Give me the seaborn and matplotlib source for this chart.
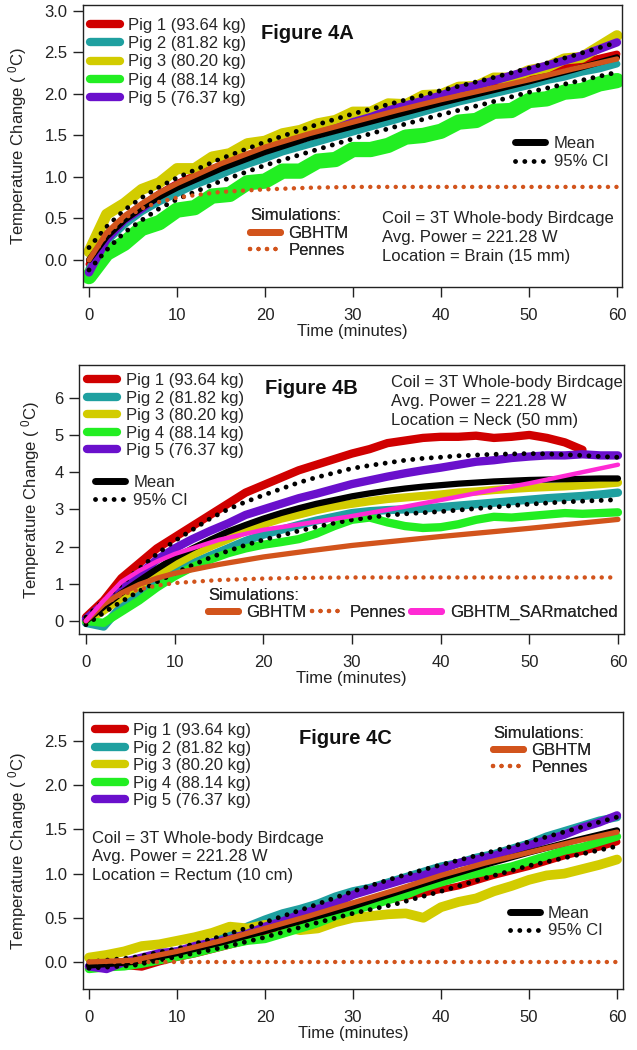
import numpy as np
import pandas as pd
import matplotlib
matplotlib.use("Agg")
import matplotlib.pyplot as plt
import seaborn as sns
from matplotlib.lines import Line2D

sns.set_style("ticks")
plt.rcParams['font.family'] = ['Liberation Sans', 'DejaVu Sans']
plt.rcParams['mathtext.fontset'] = 'custom'
plt.rcParams['mathtext.rm'] = 'Liberation Sans'
plt.rcParams['mathtext.it'] = 'Liberation Sans'

# ---------------- data ----------------
PIG_LABELS = ["Pig 1 (93.64 kg)", "Pig 2 (81.82 kg)", "Pig 3 (80.20 kg)",
              "Pig 4 (88.14 kg)", "Pig 5 (76.37 kg)"]
PIG_COLORS = ["#d00000", "#1fa0a0", "#d2cc00", "#22ee22", "#6a10cc"]
C_SIM = "#d2541c"
C_PINK = "#ff2ad4"

T_PIG = list(range(0, 61, 2))

# Panel A (brain)
A_PIG1 = [-0.05, 0.30, 0.50, 0.66, 0.80, 0.92, 1.02, 1.10, 1.18, 1.26, 1.33, 1.40, 1.46, 1.52, 1.58, 1.64,
          1.70, 1.78, 1.82, 1.88, 1.94, 2.00, 2.05, 2.10, 2.16, 2.22, 2.27, 2.32, 2.38, 2.43, 2.48]
A_PIG2 = [-0.10, 0.22, 0.42, 0.58, 0.70, 0.80, 0.90, 0.98, 1.07, 1.15, 1.22, 1.30, 1.36, 1.42, 1.48, 1.54,
          1.60, 1.66, 1.72, 1.78, 1.84, 1.90, 1.95, 2.00, 2.05, 2.10, 2.16, 2.20, 2.26, 2.30, 2.36]
A_PIG3 = [0.10, 0.55, 0.68, 0.85, 0.93, 1.10, 1.10, 1.24, 1.28, 1.40, 1.43, 1.52, 1.56, 1.64, 1.68, 1.78,
          1.78, 1.88, 1.87, 1.98, 1.99, 2.08, 2.09, 2.19, 2.19, 2.28, 2.32, 2.42, 2.44, 2.57, 2.70]
A_PIG4 = [-0.20, 0.08, 0.20, 0.38, 0.45, 0.60, 0.63, 0.77, 0.79, 0.93, 0.95, 1.07, 1.07, 1.19, 1.21, 1.33,
          1.33, 1.38, 1.48, 1.50, 1.55, 1.66, 1.68, 1.79, 1.80, 1.92, 1.94, 2.02, 2.04, 2.12, 2.16]
A_PIG5 = [-0.15, 0.25, 0.48, 0.62, 0.78, 0.90, 0.98, 1.08, 1.16, 1.25, 1.32, 1.40, 1.46, 1.52, 1.58, 1.66,
          1.72, 1.80, 1.86, 1.92, 1.98, 2.06, 2.10, 2.16, 2.22, 2.28, 2.34, 2.40, 2.46, 2.54, 2.62]
T_A_STAT = [0, 2, 4, 6, 8, 10, 15, 20, 25, 30, 35, 40, 45, 50, 55, 60]
A_MEAN = [0.00, 0.28, 0.48, 0.63, 0.76, 0.87, 1.10, 1.30, 1.47, 1.61, 1.75, 1.89, 2.02, 2.15, 2.29, 2.44]
A_CI_HI = [0.15, 0.40, 0.60, 0.75, 0.88, 0.99, 1.22, 1.42, 1.60, 1.76, 1.90, 2.04, 2.17, 2.31, 2.46, 2.62]
A_CI_LO = [-0.12, 0.12, 0.33, 0.48, 0.62, 0.73, 0.95, 1.14, 1.30, 1.46, 1.61, 1.75, 1.88, 2.02, 2.14, 2.26]
A_GBHTM = [0.00, 0.33, 0.53, 0.68, 0.81, 0.92, 1.16, 1.36, 1.52, 1.66, 1.80, 1.93, 2.05, 2.17, 2.30, 2.42]
T_A_PEN = [0, 2, 4, 6, 8, 10, 12, 15, 20, 25, 30, 60]
A_PENNES = [0.00, 0.30, 0.50, 0.62, 0.70, 0.75, 0.78, 0.82, 0.85, 0.87, 0.88, 0.88]

# Panel B (neck)
NAN = np.nan
B_PIG1 = [0.10, 0.55, 1.15, 1.55, 1.95, 2.25, 2.55, 2.85, 3.15, 3.45, 3.65, 3.85, 4.05, 4.20, 4.35, 4.50,
          4.62, 4.78, 4.85, 4.92, 4.95, 4.95, 4.98, 4.92, 4.95, 5.00, 4.92, 4.80, 4.60, NAN, NAN]
B_PIG2 = [-0.05, -0.15, 0.40, 0.75, 1.05, 1.30, 1.55, 1.75, 1.95, 2.15, 2.32, 2.45, 2.58, 2.70, 2.80, 2.90,
          2.95, 2.98, 3.00, 3.02, 3.06, 3.10, 3.14, 3.18, 3.22, 3.26, 3.30, 3.33, 3.36, 3.40, 3.45]
B_PIG3 = [0.00, 0.28, 0.62, 0.95, 1.25, 1.52, 1.78, 2.00, 2.20, 2.42, 2.60, 2.75, 2.86, 2.98, 3.08, 3.15,
          3.22, 3.28, 3.32, 3.36, 3.40, 3.45, 3.48, 3.52, 3.55, 3.58, 3.60, 3.62, 3.65, 3.68, 3.72]
B_PIG4 = [0.00, -0.05, 0.25, 0.55, 0.90, 1.20, 1.45, 1.65, 1.82, 1.95, 2.05, 2.12, 2.20, 2.35, 2.55, 2.72,
          2.78, 2.65, 2.55, 2.50, 2.52, 2.60, 2.72, 2.80, 2.78, 2.82, 2.86, 2.90, 2.88, 2.90, 2.92]
B_PIG5 = [0.05, 0.45, 0.85, 1.25, 1.65, 1.95, 2.20, 2.42, 2.62, 2.85, 3.00, 3.15, 3.30, 3.42, 3.55, 3.68,
          3.78, 3.88, 3.97, 4.05, 4.12, 4.20, 4.28, 4.32, 4.38, 4.42, 4.45, 4.45, 4.48, 4.45, 4.45]
T_B_STAT = list(range(0, 61, 2))
B_MEAN = [0.00, 0.38, 0.75, 1.08, 1.40, 1.70, 1.95, 2.18, 2.40, 2.58, 2.75, 2.90, 3.03, 3.15, 3.25, 3.35,
          3.43, 3.50, 3.56, 3.61, 3.65, 3.69, 3.72, 3.75, 3.77, 3.79, 3.80, 3.81, 3.82, 3.83, 3.83]
B_CI_HI = [0.10, 0.55, 1.00, 1.40, 1.80, 2.15, 2.45, 2.75, 3.00, 3.20, 3.38, 3.55, 3.72, 3.86, 3.98, 4.10,
           4.18, 4.25, 4.32, 4.37, 4.40, 4.44, 4.46, 4.48, 4.49, 4.50, 4.49, 4.47, 4.45, 4.42, 4.40]
B_CI_LO = [-0.10, 0.22, 0.52, 0.80, 1.05, 1.28, 1.50, 1.70, 1.88, 2.04, 2.18, 2.30, 2.42, 2.53, 2.63, 2.72,
           2.78, 2.84, 2.88, 2.91, 2.94, 2.98, 3.02, 3.06, 3.10, 3.14, 3.17, 3.20, 3.22, 3.24, 3.26]
T_B_SIM = [0, 2, 4, 6, 8, 10, 15, 20, 25, 30, 35, 40, 45, 50, 55, 60]
B_GBHTM = [0.00, 0.45, 0.75, 0.98, 1.15, 1.28, 1.52, 1.72, 1.88, 2.03, 2.15, 2.27, 2.38, 2.49, 2.61, 2.73]
B_PENNES = [0.00, 0.45, 0.70, 0.85, 0.95, 1.02, 1.10, 1.14, 1.16, 1.17, 1.17, 1.17, 1.17, 1.17, 1.17, 1.17]
B_SARMATCHED = [0.00, 0.55, 1.05, 1.35, 1.60, 1.80, 2.18, 2.45, 2.63, 2.82, 3.03, 3.25, 3.48, 3.70, 3.95, 4.20]

# Panel C (rectum)
C_PIG1 = [-0.05, -0.06, -0.04, -0.06, 0.00, 0.05, 0.09, 0.14, 0.19, 0.24, 0.29, 0.34, 0.40, 0.46, 0.52, 0.58,
          0.64, 0.70, 0.74, 0.78, 0.82, 0.86, 0.92, 0.98, 1.03, 1.08, 1.14, 1.20, 1.25, 1.30, 1.36]
C_PIG2 = [-0.05, -0.02, 0.00, 0.04, 0.06, 0.12, 0.16, 0.22, 0.30, 0.40, 0.48, 0.55, 0.60, 0.66, 0.74, 0.80,
          0.84, 0.90, 0.96, 1.02, 1.08, 1.12, 1.18, 1.22, 1.28, 1.34, 1.42, 1.48, 1.54, 1.60, 1.64]
C_PIG3 = [0.05, 0.08, 0.12, 0.18, 0.20, 0.24, 0.28, 0.33, 0.40, 0.38, 0.42, 0.40, 0.36, 0.38, 0.45, 0.50,
          0.52, 0.54, 0.55, 0.50, 0.62, 0.68, 0.72, 0.80, 0.86, 0.93, 0.98, 1.00, 1.05, 1.10, 1.16]
C_PIG4 = [-0.08, -0.06, -0.05, -0.02, 0.02, 0.06, 0.10, 0.15, 0.20, 0.24, 0.26, 0.32, 0.38, 0.44, 0.52, 0.58,
          0.64, 0.70, 0.76, 0.84, 0.90, 0.96, 1.00, 1.04, 1.08, 1.14, 1.20, 1.26, 1.30, 1.36, 1.42]
C_PIG5 = [-0.05, -0.08, 0.00, 0.05, 0.10, 0.12, 0.18, 0.22, 0.26, 0.32, 0.40, 0.46, 0.54, 0.60, 0.66, 0.76,
          0.82, 0.88, 0.94, 0.98, 1.05, 1.12, 1.16, 1.20, 1.26, 1.32, 1.38, 1.44, 1.52, 1.58, 1.66]
T_C_STAT = [0, 5, 10, 15, 20, 25, 30, 35, 40, 45, 50, 55, 60]
C_MEAN = [-0.04, 0.00, 0.10, 0.22, 0.35, 0.49, 0.63, 0.79, 0.95, 1.10, 1.24, 1.37, 1.49]
C_CI_HI = [0.00, 0.05, 0.15, 0.29, 0.45, 0.62, 0.80, 0.96, 1.10, 1.23, 1.36, 1.50, 1.64]
C_CI_LO = [-0.07, -0.04, 0.06, 0.16, 0.28, 0.42, 0.55, 0.66, 0.80, 0.95, 1.09, 1.20, 1.31]
C_GBHTM = [0.00, 0.02, 0.12, 0.24, 0.38, 0.52, 0.67, 0.82, 0.98, 1.12, 1.24, 1.36, 1.47]
T_C_PEN = [0, 60]
C_PENNES = [0.0, 0.0]

COIL_LINES = ["Coil = 3T Whole-body Birdcage", "Avg. Power = 221.28 W"]
LOCATIONS = ["Location = Brain (15 mm)", "Location = Neck (50 mm)", "Location = Rectum (10 cm)"]
TITLES = ["Figure 4A", "Figure 4B", "Figure 4C"]
YLABEL = "Temperature Change ( $^{0}$C)"
XLABEL = "Time (minutes)"

FS = 12
TFS = 14.5
DOT = (0, (0.01, 1.9))

# ---------------- helpers ----------------
def line(ax, x, y, color, lw, ls="-", z=2):
    df = pd.DataFrame({"t": x, "v": y}).dropna()
    sns.lineplot(data=df, x="t", y="v", ax=ax, color=color, linewidth=lw, linestyle=ls,
                 estimator=None, errorbar=None, sort=False, legend=False, zorder=z,
                 dash_capstyle="round", solid_capstyle="round")

def pig_handles():
    return [Line2D([], [], color=c, lw=6, solid_capstyle="round") for c in PIG_COLORS]

def h_mean():
    return Line2D([], [], color="black", lw=5, solid_capstyle="round")

def h_ci():
    return Line2D([], [], color="black", lw=3.5, linestyle=DOT, dash_capstyle="round")

def h_gbhtm():
    return Line2D([], [], color=C_SIM, lw=5, solid_capstyle="round")

def h_pennes():
    return Line2D([], [], color=C_SIM, lw=3.2, linestyle=DOT, dash_capstyle="round")

def add_leg(ax, handles, labels, x, y, **kw):
    opts = dict(loc="upper left", bbox_to_anchor=(x, y), bbox_transform=ax.transAxes,
                frameon=False, borderpad=0, borderaxespad=0, fontsize=FS,
                handlelength=1.8, handletextpad=0.5, labelspacing=0.2)
    opts.update(kw)
    leg = ax.legend(handles, labels, **opts)
    ax.add_artist(leg)
    return leg

def style_axes(ax, xlim, ylim, yticks, yfmt, ylab_x):
    ax.set_xlim(*xlim)
    ax.set_ylim(*ylim)
    ax.set_xticks([0, 10, 20, 30, 40, 50, 60])
    ax.set_yticks(yticks)
    ax.set_yticklabels([yfmt.format(v) for v in yticks])
    for s in ax.spines.values():
        s.set_visible(True)
        s.set_linewidth(1.0)
        s.set_color("#222222")
    ax.tick_params(axis="both", direction="out", length=7, width=1.0, labelsize=FS,
                   colors="#222222", labelcolor="#222222")
    ax.tick_params(axis="x", pad=8)
    ax.tick_params(axis="y", pad=4)
    ax.set_xlabel(XLABEL, fontsize=FS, color="#222222", labelpad=1)
    ax.set_ylabel(YLABEL, fontsize=FS, color="#222222")
    ax.yaxis.set_label_coords(ylab_x, 0.5)

def draw_pigs(ax, pigs, lws):
    for y, c, lw in zip(pigs, PIG_COLORS, lws):
        line(ax, T_PIG, y, c, lw, z=2)

# ---------------- figure ----------------
fig = plt.figure(figsize=(6.37, 10.5), dpi=100)
W, H = 637, 1050

def make_ax(l, t, r, b):
    return fig.add_axes([l / W, 1 - b / H, (r - l) / W, (b - t) / H])

axA = make_ax(83, 5, 622, 287)
axB = make_ax(79, 365, 624, 634)
axC = make_ax(83, 712, 623, 989)

# ---- Panel A ----
ax = axA
draw_pigs(ax, [A_PIG1, A_PIG2, A_PIG3, A_PIG4, A_PIG5], [5, 5, 8, 11, 6])
line(ax, T_A_STAT, A_CI_HI, "black", 3.5, DOT, z=3)
line(ax, T_A_STAT, A_CI_LO, "black", 3.5, DOT, z=3)
line(ax, T_A_STAT, A_MEAN, "black", 4.5, z=4)
line(ax, T_A_STAT, A_GBHTM, C_SIM, 3.8, z=5)
line(ax, T_A_PEN, A_PENNES, C_SIM, 3.2, DOT, z=5)
style_axes(ax, (-0.68, 60.57), (-0.325, 3.07), [0, 0.5, 1.0, 1.5, 2.0, 2.5, 3.0], "{:.1f}", -0.10)
add_leg(ax, pig_handles(), PIG_LABELS, 0.013, 0.955)
add_leg(ax, [h_mean(), h_ci()], ["Mean", "95% CI"], 0.802, 0.535)
add_leg(ax, [h_gbhtm(), h_pennes()], ["GBHTM", "Pennes"], 0.31, 0.28,
        title="Simulations:", title_fontsize=FS, alignment="left", labelspacing=0.15)
ax.text(0.417, 0.90, TITLES[0], transform=ax.transAxes, ha="center", va="center",
        fontsize=TFS, fontweight="bold", color="#111111")
for i, s in enumerate(COIL_LINES + [LOCATIONS[0]]):
    ax.text(0.555, 0.243 - i * 0.067, s, transform=ax.transAxes, ha="left", va="center",
            fontsize=FS, color="#222222")

# ---- Panel B ----
ax = axB
draw_pigs(ax, [B_PIG1, B_PIG2, B_PIG3, B_PIG4, B_PIG5], [6, 6, 6, 6, 6])
line(ax, T_B_STAT, B_CI_HI, "black", 3.5, DOT, z=3)
line(ax, T_B_STAT, B_CI_LO, "black", 3.5, DOT, z=3)
line(ax, T_B_STAT, B_MEAN, "black", 4.5, z=4)
line(ax, T_B_SIM, B_GBHTM, C_SIM, 3.8, z=5)
line(ax, T_B_SIM, B_PENNES, C_SIM, 3.2, DOT, z=5)
line(ax, T_B_SIM, B_SARMATCHED, C_PINK, 3.2, z=6)
style_axes(ax, (-0.78, 60.68), (-0.35, 6.88), [0, 1, 2, 3, 4, 5, 6], "{:d}", -0.068)
add_leg(ax, pig_handles(), PIG_LABELS, 0.015, 0.97, labelspacing=0.15)
add_leg(ax, [h_mean(), h_ci()], ["Mean", "95% CI"], 0.029, 0.59, labelspacing=0.15)
add_leg(ax, [h_gbhtm(), h_pennes(), Line2D([], [], color=C_PINK, lw=5, solid_capstyle="round")],
        ["GBHTM", "Pennes", "GBHTM_SARmatched"], 0.237, 0.17, ncol=3, columnspacing=0.3,
        handlelength=1.8, title="Simulations:", title_fontsize=FS, alignment="left",
        labelspacing=0.1)
ax.text(0.426, 0.911, TITLES[1], transform=ax.transAxes, ha="center", va="center",
        fontsize=TFS, fontweight="bold", color="#111111")
for i, s in enumerate(COIL_LINES + [LOCATIONS[1]]):
    ax.text(0.572, 0.935 - i * 0.07, s, transform=ax.transAxes, ha="left", va="center",
            fontsize=FS, color="#222222")

# ---- Panel C ----
ax = axC
draw_pigs(ax, [C_PIG1, C_PIG2, C_PIG3, C_PIG4, C_PIG5], [5, 6, 7, 6, 6])
line(ax, T_C_STAT, C_CI_HI, "black", 3.5, DOT, z=3)
line(ax, T_C_STAT, C_CI_LO, "black", 3.5, DOT, z=3)
line(ax, T_C_STAT, C_MEAN, "black", 4.5, z=4)
line(ax, T_C_STAT, C_GBHTM, C_SIM, 3.8, z=5)
line(ax, T_C_PEN, C_PENNES, C_SIM, 3.2, DOT, z=5)
style_axes(ax, (-0.68, 60.68), (-0.306, 2.83), [0, 0.5, 1.0, 1.5, 2.0, 2.5], "{:.1f}", -0.10)
add_leg(ax, pig_handles(), PIG_LABELS, 0.022, 0.96, labelspacing=0.15)
add_leg(ax, [h_mean(), h_ci()], ["Mean", "95% CI"], 0.79, 0.30, labelspacing=0.15)
add_leg(ax, [h_gbhtm(), h_pennes()], ["GBHTM", "Pennes"], 0.759, 0.95, labelspacing=0.12,
        title="Simulations:", title_fontsize=FS, alignment="left")
ax.text(0.485, 0.906, TITLES[2], transform=ax.transAxes, ha="center", va="center",
        fontsize=TFS, fontweight="bold", color="#111111")
for i, s in enumerate(COIL_LINES + [LOCATIONS[2]]):
    ax.text(0.017, 0.545 - i * 0.068, s, transform=ax.transAxes, ha="left", va="center",
            fontsize=FS, color="#222222")

fig.savefig("out.png", dpi=100)
